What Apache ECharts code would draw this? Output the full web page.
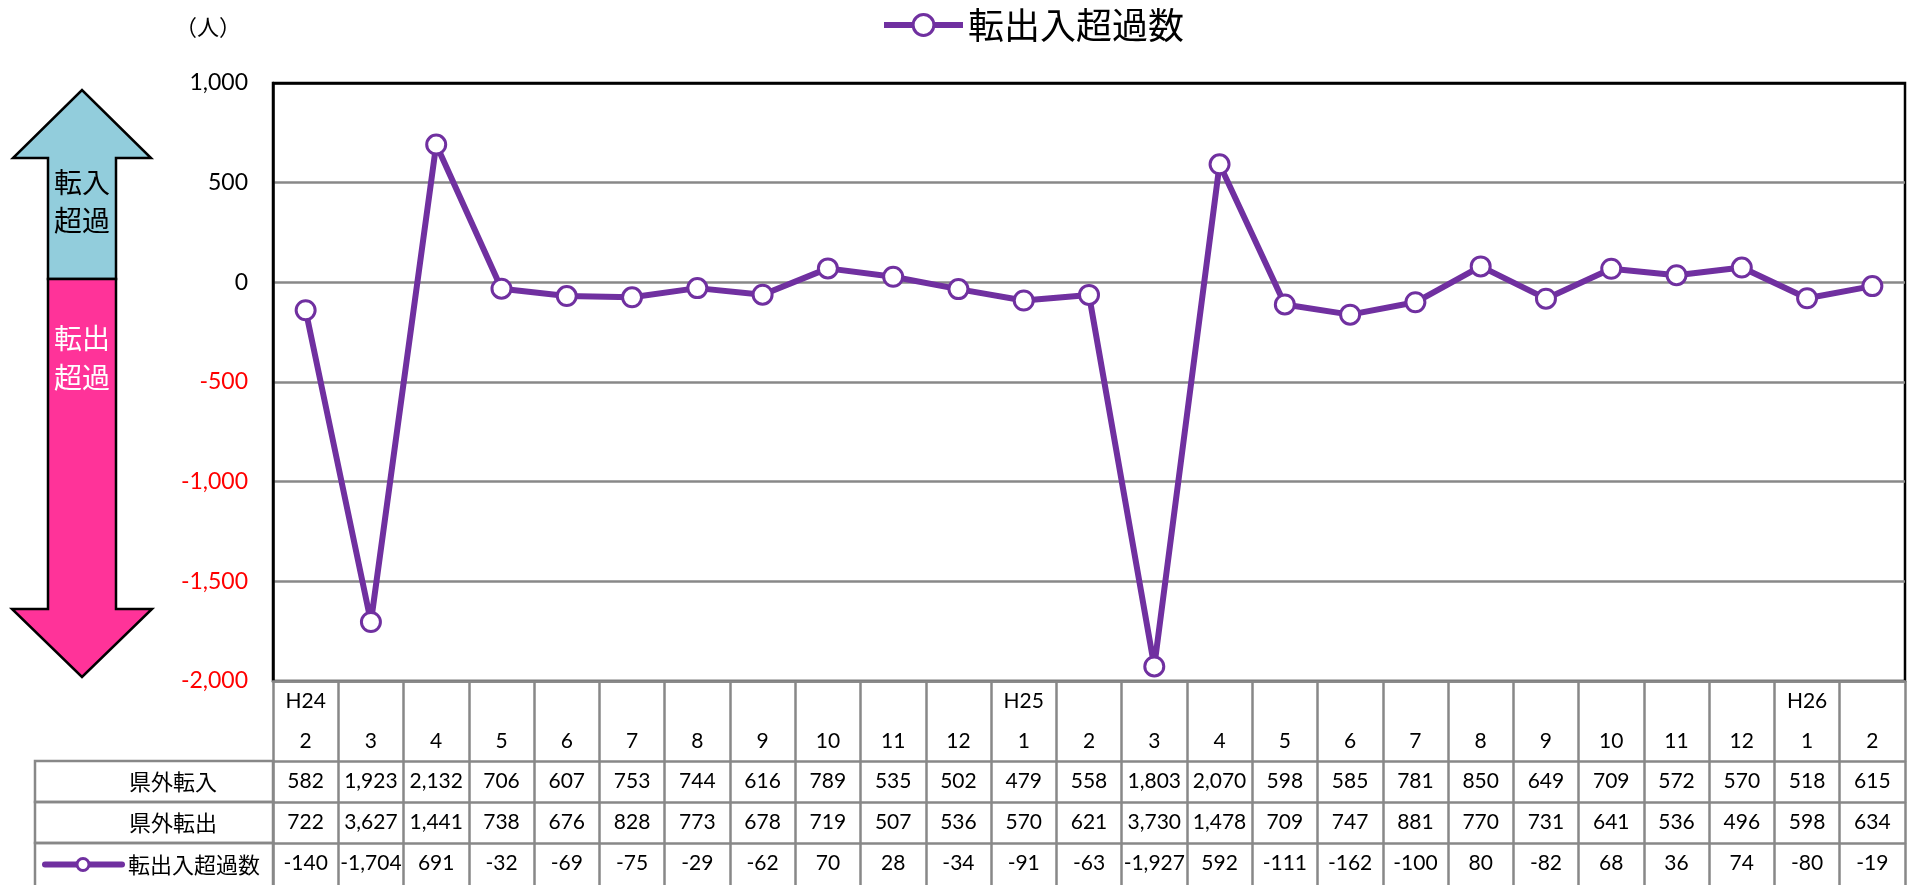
<!DOCTYPE html>
<html>
<head>
<meta charset="utf-8">
<script src="https://cdn.jsdelivr.net/npm/echarts@6/dist/echarts.min.js"></script>
<style>
  html, body { margin: 0; padding: 0; background: #fff; }
  #chart { width: 1915px; height: 885px; }
</style>
</head>
<body>
<div id="chart"></div>
<script>
// months and year marks along the bottom
const months = ['2', '3', '4', '5', '6', '7', '8', '9', '10', '11', '12', '1', '2', '3', '4', '5', '6', '7', '8', '9', '10', '11', '12', '1', '2'];
const yearLabels = ['H24', '', '', '', '', '', '', '', '', '', '', 'H25', '', '', '', '', '', '', '', '', '', '', '', 'H26', ''];

// 県外転入 / 県外転出 / 転出入超過数
const inflow = [582, 1923, 2132, 706, 607, 753, 744, 616, 789, 535, 502, 479, 558, 1803, 2070, 598, 585, 781, 850, 649, 709, 572, 570, 518, 615];
const outflow = [722, 3627, 1441, 738, 676, 828, 773, 678, 719, 507, 536, 570, 621, 3730, 1478, 709, 747, 881, 770, 731, 641, 536, 496, 598, 634];
const net = [-140, -1704, 691, -32, -69, -75, -29, -62, 70, 28, -34, -91, -63, -1927, 592, -111, -162, -100, 80, -82, 68, 36, 74, -80, -19];

const rowNames = ['県外転入', '県外転出', '転出入超過数'];
const yMin = -2000, yMax = 1000, yStep = 500;

// layout
const W = 1915, H = 885;
const gridLeft = 273, gridRight = 1905, gridTop = 83, plotBottom = 681;
const headerH = 80, rowH = 41, tableLeft = 35;
const purple = '#7030A0';
const gray = '#888';
const numFont = "Lato, 'Noto Sans CJK JP', sans-serif";
const cjkFont = "'Noto Sans CJK JP', sans-serif";

const fmt = (v) => v.toLocaleString('en-US');
const rows = [inflow, outflow, net];

const chart = echarts.init(document.getElementById('chart'));

// table rows as extra category axes below the header row
const rowAxes = rows.map((arr, k) => ({
  type: 'category',
  gridIndex: 0,
  position: 'bottom',
  offset: headerH + k * rowH,
  data: months,
  axisLine: { onZero: false, lineStyle: { color: gray, width: 2.5 } },
  axisTick: { show: true, interval: 0, length: k === 2 ? 60 : rowH, lineStyle: { color: gray, width: 2.5 } },
  axisLabel: {
    interval: 0, margin: 0, lineHeight: rowH, fontSize: 21, color: '#000', fontFamily: numFont,
    formatter: (v, i) => fmt(arr[i])
  },
  splitLine: { show: false }
}));

const graphics = [];

// 転入超過 arrow (up)
graphics.push({
  type: 'polygon', z: 10,
  shape: { points: [[48, 279], [48, 158], [13, 158], [82, 90], [151, 158], [116, 158], [116, 279]] },
  style: { fill: '#92CDDC', stroke: '#000', lineWidth: 2.5 }
});
// 転出超過 arrow (down)
graphics.push({
  type: 'polygon', z: 10,
  shape: { points: [[48, 279], [116, 279], [116, 609], [152, 609], [82, 677], [12, 609], [48, 609]] },
  style: { fill: '#FF3399', stroke: '#000', lineWidth: 2.5 }
});
[['転入', 182, '#000'], ['超過', 220, '#000'], ['転出', 338, '#fff'], ['超過', 377, '#fff']].forEach(([t, y, c]) => {
  graphics.push({
    type: 'text', z: 11, x: 82, y: y,
    style: { text: t, fill: c, font: "28px 'Noto Sans CJK JP'", align: 'center', verticalAlign: 'middle' }
  });
});

// unit
graphics.push({
  type: 'text', x: 208, y: 27,
  style: { text: '（人）', fill: '#000', font: "22px 'Noto Sans CJK JP'", align: 'center', verticalAlign: 'middle' }
});

// row label cells
rowNames.forEach((name, k) => {
  const y0 = plotBottom + headerH + k * rowH;
  const h = k === 2 ? H - y0 + 20 : rowH;
  graphics.push({
    type: 'rect', z: 5,
    shape: { x: tableLeft, y: y0, width: gridLeft - tableLeft, height: h },
    style: { fill: 'none', stroke: gray, lineWidth: 2.5 }
  });
  if (k < 2) {
    graphics.push({
      type: 'text', z: 6, x: 173, y: y0 + rowH / 2,
      style: { text: name, fill: '#000', font: "22px 'Noto Sans CJK JP'", align: 'center', verticalAlign: 'middle' }
    });
  } else {
    const cy = y0 + rowH / 2 + 1;
    graphics.push({
      type: 'line', z: 6,
      shape: { x1: 45, y1: cy, x2: 122, y2: cy },
      style: { stroke: purple, lineWidth: 6, lineCap: 'round' }
    });
    graphics.push({
      type: 'circle', z: 7,
      shape: { cx: 83, cy: cy, r: 6 },
      style: { fill: '#fff', stroke: purple, lineWidth: 3 }
    });
    graphics.push({
      type: 'text', z: 6, x: 128, y: cy,
      style: { text: name, fill: '#000', font: "22px 'Noto Sans CJK JP'", align: 'left', verticalAlign: 'middle' }
    });
  }
});

const option = {
  animation: false,
  backgroundColor: '#fff',
  legend: {
    data: ['転出入超過数'],
    left: 876,
    top: 2,
    itemWidth: 79,
    itemHeight: 26,
    itemGap: 6,
    lineStyle: { width: 6 },
    itemStyle: { borderWidth: 3 },
    textStyle: { fontSize: 36, color: '#000', fontFamily: cjkFont }
  },
  grid: {
    left: gridLeft,
    right: W - gridRight,
    top: gridTop,
    bottom: H - plotBottom,
    show: true,
    borderColor: '#000',
    borderWidth: 2.5,
    backgroundColor: 'transparent'
  },
  xAxis: [
    {
      type: 'category',
      data: months,
      axisLine: { onZero: false, lineStyle: { color: gray, width: 2.5 } },
      axisTick: { show: true, interval: 0, length: headerH, lineStyle: { color: gray, width: 2.5 } },
      axisLabel: {
        interval: 0, margin: 0, lineHeight: 40, fontSize: 21, color: '#000', fontFamily: numFont,
        formatter: (v, i) => yearLabels[i] + '\n' + v
      },
      splitLine: { show: false }
    }
  ].concat(rowAxes),
  yAxis: {
    type: 'value',
    min: yMin,
    max: yMax,
    interval: yStep,
    axisLine: { show: true, lineStyle: { color: '#000', width: 2.5 } },
    axisTick: { show: false },
    splitLine: { lineStyle: { color: [gray, gray, gray, gray, gray, gray, '#000'], width: 2.5 } },
    axisLabel: {
      margin: 25,
      fontSize: 23,
      fontFamily: numFont,
      formatter: (v) => (v < 0 ? '{neg|' + fmt(v) + '}' : '{pos|' + fmt(v) + '}'),
      rich: {
        neg: { color: '#FF0000', fontSize: 23, fontFamily: numFont },
        pos: { color: '#000', fontSize: 23, fontFamily: numFont }
      }
    }
  },
  series: [
    {
      name: '転出入超過数',
      type: 'line',
      xAxisIndex: 0,
      data: net,
      symbol: 'circle',
      symbolSize: 19,
      z: 10,
      lineStyle: { color: purple, width: 6 },
      itemStyle: { color: '#fff', borderColor: purple, borderWidth: 3 }
    }
  ],
  graphic: graphics
};

chart.setOption(option);
</script>
</body>
</html>
